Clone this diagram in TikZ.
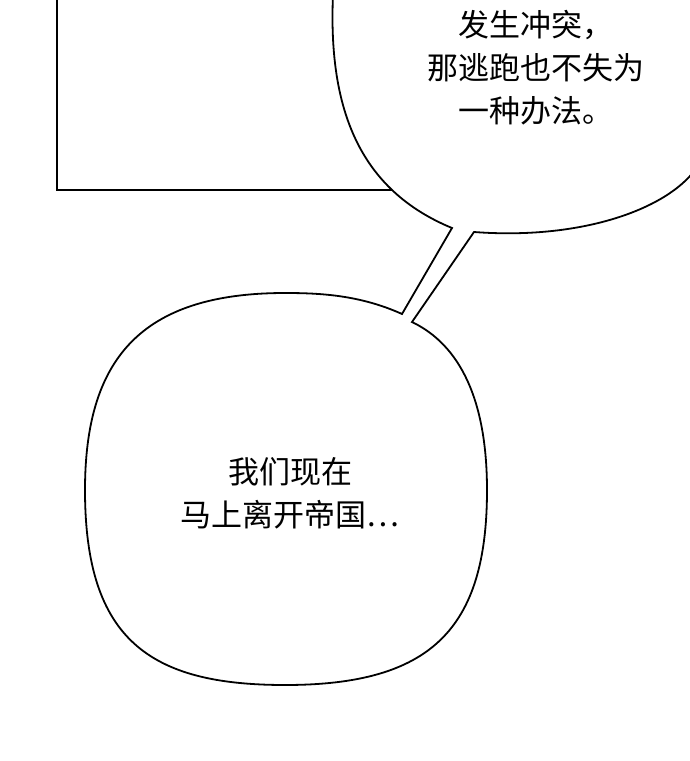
\documentclass[tikz,border=0pt]{standalone}
\usepackage{fontspec}
\setmainfont{Noto Sans CJK SC}
\begin{document}
\begin{tikzpicture}[x=1pt,y=-1pt,line width=1.8pt,
  txt/.style={align=center,font=\fontsize{31}{43}\selectfont,inner sep=0}]
\useasboundingbox (0,0) rectangle (690,761);
\fill[white] (0,0) rectangle (690,761);
\draw (57,0) -- (57,190) -- (420,190);
\filldraw[fill=white] (333,-5) .. controls (328,110) and (360,190) .. (452,228)
  -- (402,314) .. controls (360,295) and (320,293) .. (285,293)
  .. controls (140,293) and (85,360) .. (85,490)
  .. controls (85,640) and (150,685) .. (285,685)
  .. controls (430,685) and (487,630) .. (487,490)
  .. controls (487,400) and (460,345) .. (412,322)
  -- (474,232) .. controls (580,240) and (665,210) .. (695,170)
  -- (695,-5) -- cycle;
\node[txt] (t1) at (536,68) {发生冲突，\\那逃跑也不失为\\一种办法。};
\node[txt] (t2) at (290,493) {我们现在\\马上离开帝国…};
\end{tikzpicture}
\end{document}
